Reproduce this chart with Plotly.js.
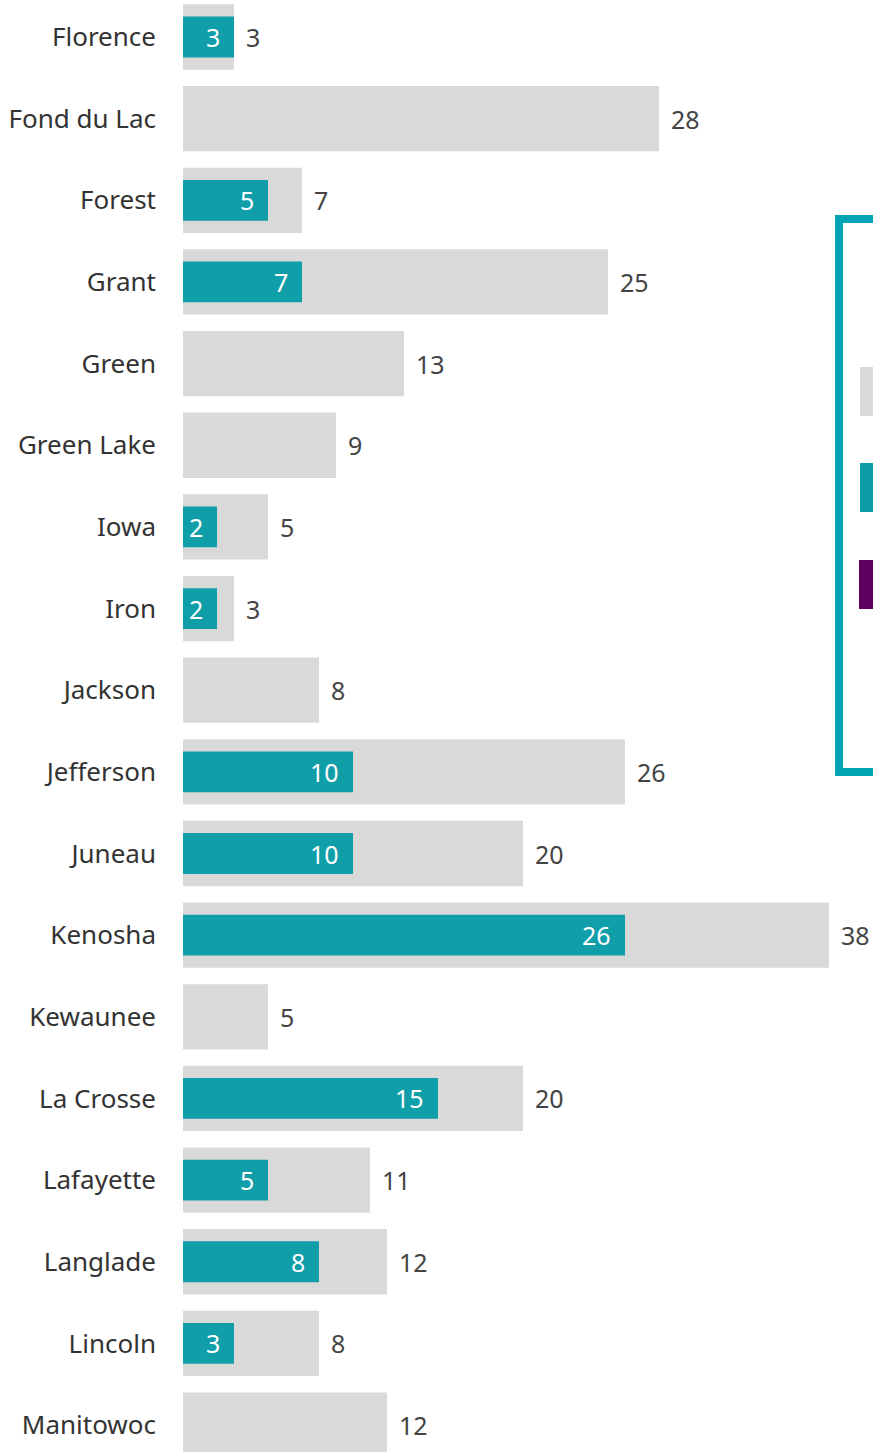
<!DOCTYPE html>
<html><head><meta charset="utf-8">
<script src="https://cdn.plot.ly/plotly-3.0.1.min.js"></script>
<style>html,body{margin:0;padding:0;background:#fff;}#chart{width:873px;height:1452px;}</style>
</head><body><div id="chart"></div>
<script>
const counties = ["Florence","Fond du Lac","Forest","Grant","Green","Green Lake","Iowa","Iron","Jackson","Jefferson","Juneau","Kenosha","Kewaunee","La Crosse","Lafayette","Langlade","Lincoln","Manitowoc"];
const totalValues = [3,28,7,25,13,9,5,3,8,26,20,38,5,20,11,12,8,12];
const subsetValues = [3,null,5,7,null,null,2,2,null,10,10,26,null,15,5,8,3,null];

const FONT = "Noto Sans, sans-serif";
const grey = "#d9d9d9", teal = "#109ea9", purple = "#5f0060", border = "#00a5b5";
const PX = 17.0;

const traces = [
  {type:"bar", orientation:"h", y:counties, x:totalValues, marker:{color:grey}, width:0.8, hoverinfo:"skip"},
  {type:"bar", orientation:"h", y:counties, x:subsetValues, marker:{color:teal}, width:0.5, hoverinfo:"skip"}
];

const annotations = [];
counties.forEach((c,i)=>{
  annotations.push({x:totalValues[i], y:c, xref:"x", yref:"y", text:String(totalValues[i]), showarrow:false, xanchor:"left", xshift:10, font:{family:FONT,size:25,color:"#444"}});
  if (subsetValues[i] !== null) {
    annotations.push({x:subsetValues[i], y:c, xref:"x", yref:"y", text:String(subsetValues[i]), showarrow:false, xanchor:"right", xshift:-12, font:{family:FONT,size:25,color:"#fff"}});
  }
});

const layout = {
  width:873, height:1452,
  margin:{l:183, r:0, t:0, b:0},
  paper_bgcolor:"#fff", plot_bgcolor:"#fff",
  barmode:"overlay", showlegend:false,
  font:{family:FONT, size:26, color:"#333"},
  xaxis:{range:[0, 690/PX], showgrid:false, zeroline:false, showticklabels:false, ticks:""},
  yaxis:{type:"category", range:[(1452-37)/81.65, -37/81.65], showgrid:false, zeroline:false, ticks:"", ticklabelstandoff:26, tickfont:{family:FONT,size:26,color:"#333"}},
  annotations:annotations,
  shapes:[
    {type:"rect", xref:"paper", yref:"paper", x0:(839-183)/690, x1:(900-183)/690, y0:1-219/1452, y1:1-772/1452, line:{color:border,width:8}, fillcolor:"rgba(0,0,0,0)"},
    {type:"rect", xref:"paper", yref:"paper", x0:(860-183)/690, x1:(900-183)/690, y0:1-367/1452, y1:1-416/1452, line:{width:0}, fillcolor:grey},
    {type:"rect", xref:"paper", yref:"paper", x0:(860-183)/690, x1:(900-183)/690, y0:1-463/1452, y1:1-512/1452, line:{width:0}, fillcolor:"#0b9aa7"},
    {type:"rect", xref:"paper", yref:"paper", x0:(859-183)/690, x1:(900-183)/690, y0:1-560/1452, y1:1-609/1452, line:{width:0}, fillcolor:purple}
  ]
};
Plotly.newPlot("chart", traces, layout, {displayModeBar:false, staticPlot:true});
</script></body></html>
